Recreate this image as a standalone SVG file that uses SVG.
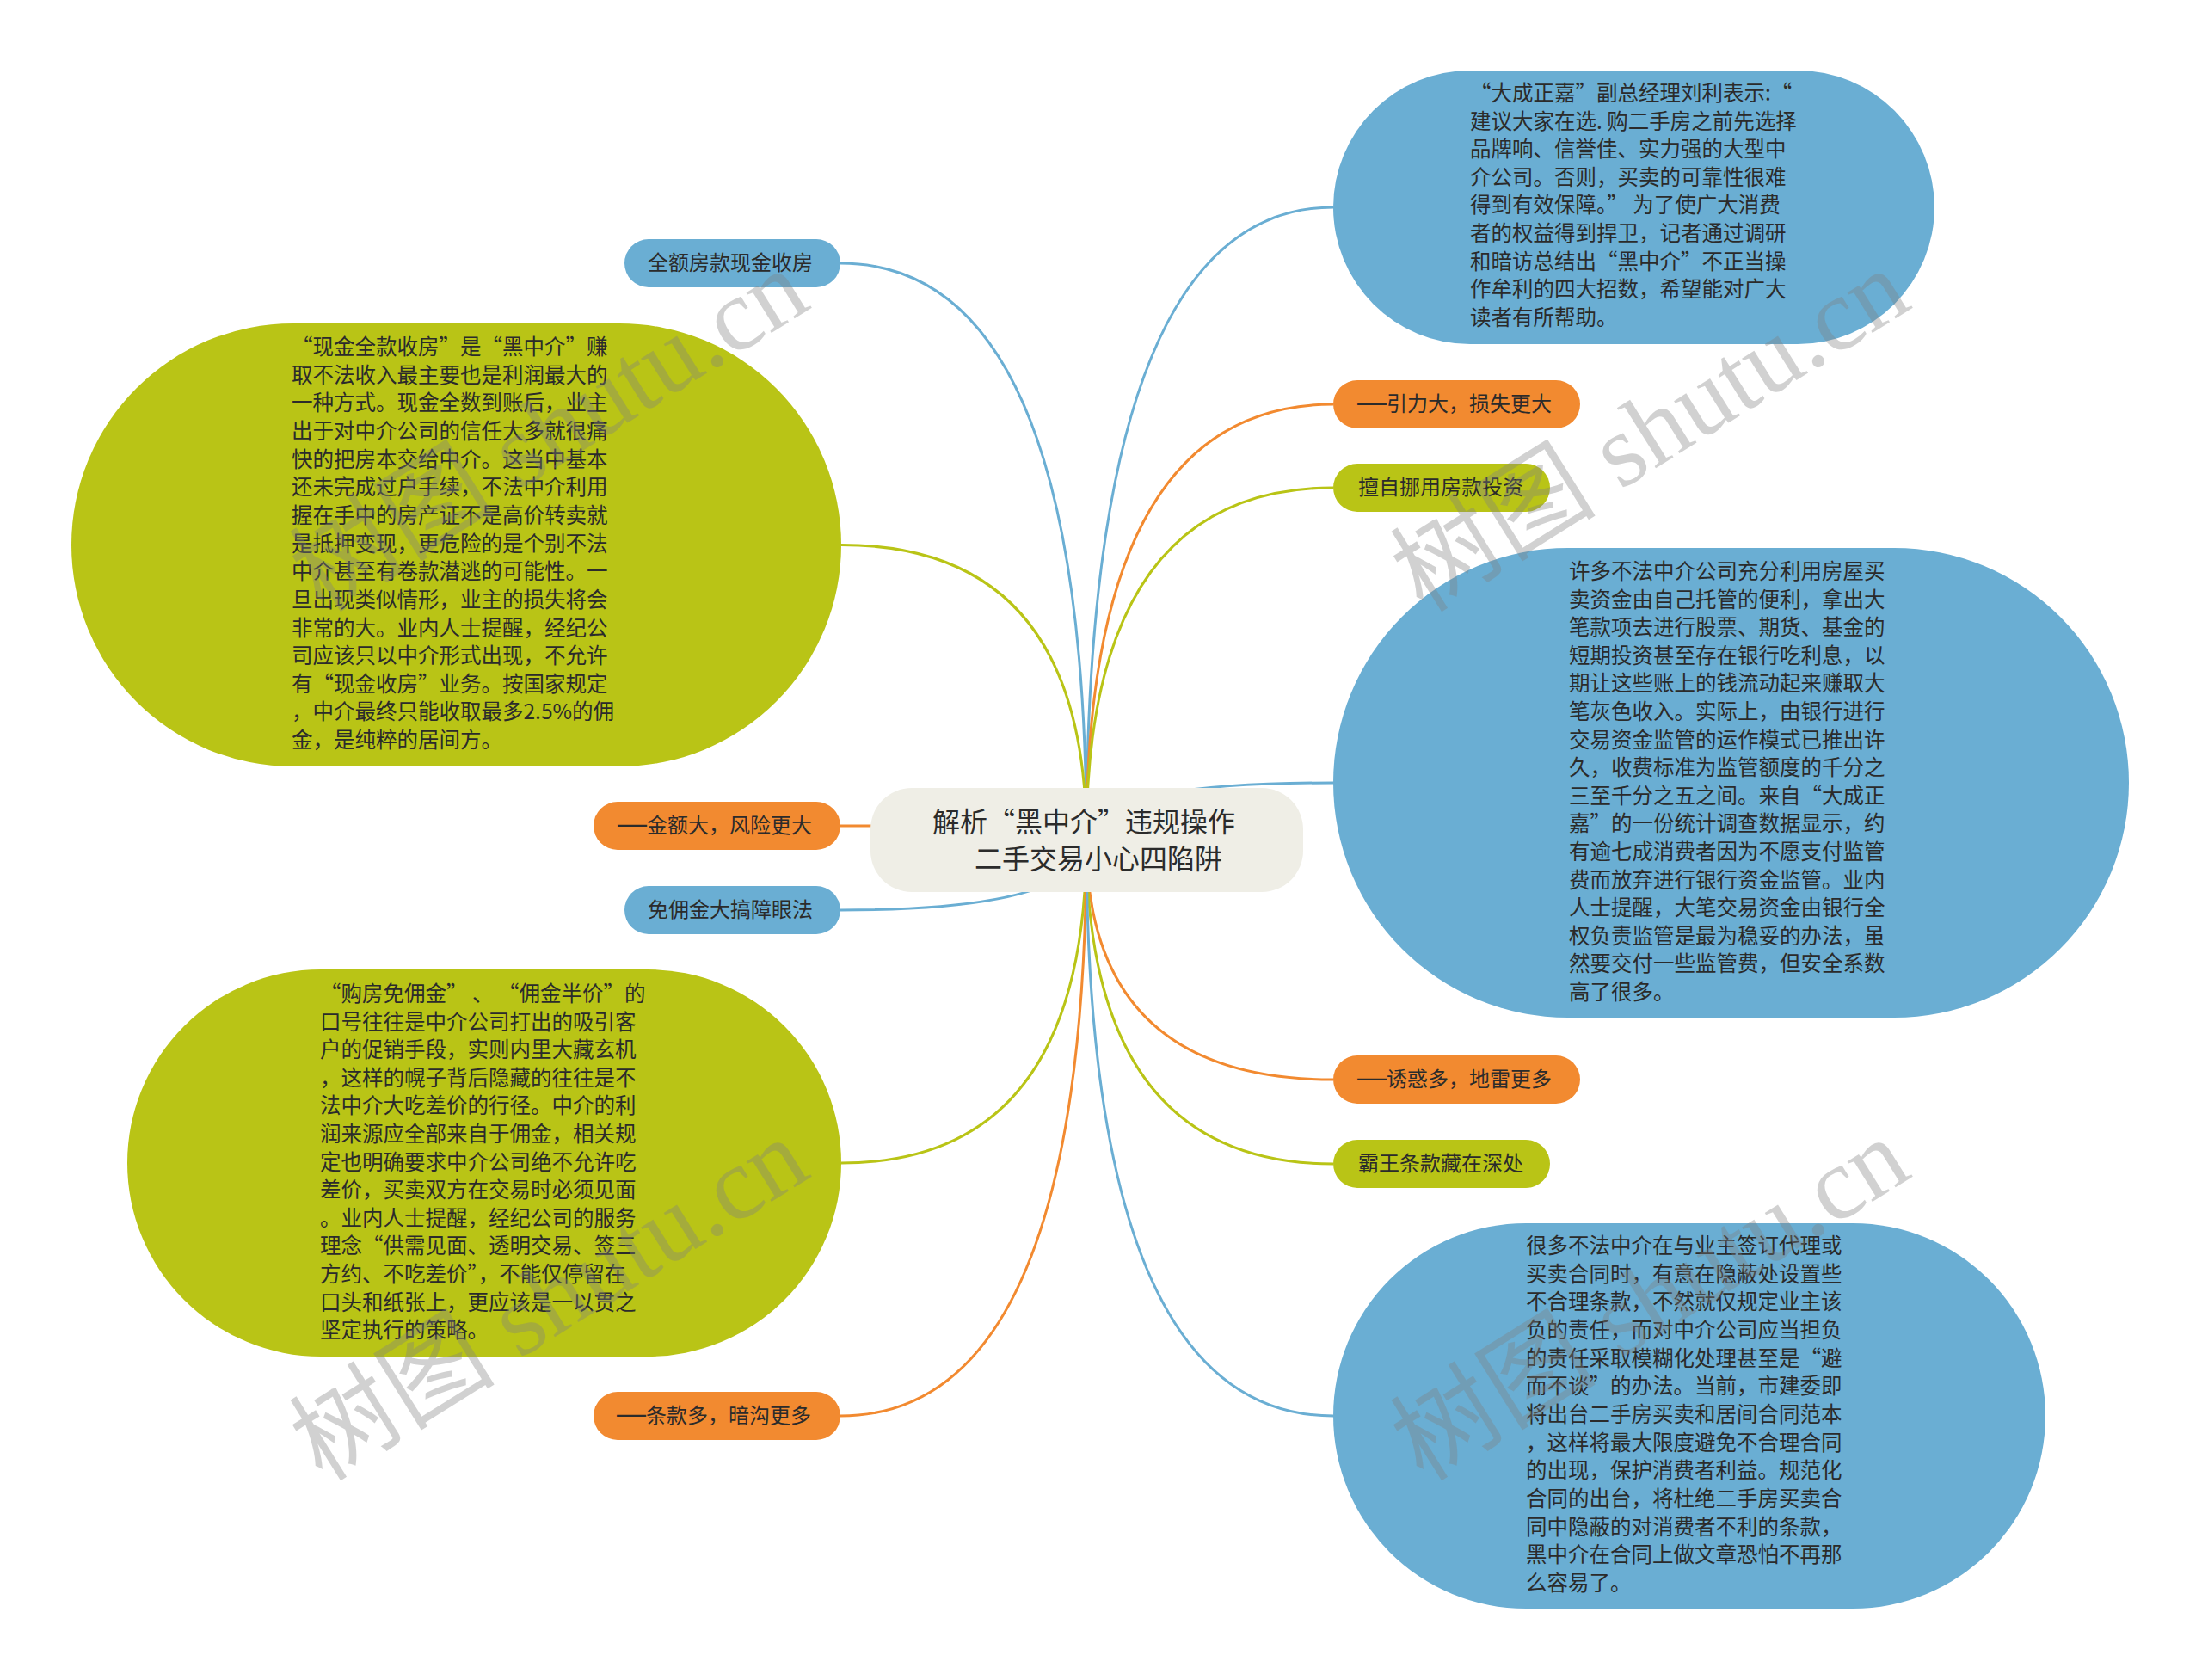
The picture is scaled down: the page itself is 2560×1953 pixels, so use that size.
<svg xmlns="http://www.w3.org/2000/svg" width="2560" height="1953" viewBox="0 0 2560 1953">
<style>
.t{font-family:"Noto Sans CJK SC","Liberation Sans",sans-serif;fill:#2b2b2b}
.body{font-size:24.5px}
.small{font-size:24px}
.title{font-size:32px}
.dash{font-family:"Liberation Sans","Noto Sans CJK SC",sans-serif;font-size:34px}
.blue{fill:#6aaed3}
.green{fill:#b9c416}
.orange{fill:#f28a30}
.center{fill:#efeee6}
.conn{fill:none;stroke-width:3}
.cb{stroke:#6aaed3}
.cg{stroke:#b9c416}
.co{stroke:#f28a30}
.wm{font-family:"Liberation Serif","Noto Sans CJK SC",serif;font-size:120px;fill:#808080;fill-opacity:0.36}
</style>
<rect width="2560" height="1953" fill="#ffffff"/>
<g id="connectors">
<path class="conn cb" d="M1263,976 Q1263,306 977,306"/>
<path class="conn cg" d="M1263,976 Q1263,633.5 978,633.5"/>
<path class="conn co" d="M1263,976 Q1263,960 977,960"/>
<path class="conn cb" d="M1263,976 Q1263,1058 977,1058"/>
<path class="conn cg" d="M1263,976 Q1263,1352 978,1352"/>
<path class="conn co" d="M1263,976 Q1263,1646 977,1646"/>
<path class="conn cb" d="M1263,976 Q1263,241 1550,241"/>
<path class="conn co" d="M1263,976 Q1263,470 1550,470"/>
<path class="conn cg" d="M1263,976 Q1263,567 1550,567"/>
<path class="conn cb" d="M1263,976 Q1263,910 1550,910"/>
<path class="conn co" d="M1263,976 Q1263,1255 1550,1255"/>
<path class="conn cg" d="M1263,976 Q1263,1353 1550,1353"/>
<path class="conn cb" d="M1263,976 Q1263,1646 1550,1646"/>
</g>
<g id="center">
<rect class="center" x="1012" y="916" width="503" height="121" rx="48" ry="48"/>
<text class="t title" x="1084" y="967">解析“黑中介”违规操作</text>
<text class="t title" x="1133" y="1010">二手交易小心四陷阱</text>
</g>
<g id="n1">
<rect class="blue" x="726" y="278" width="251" height="56" rx="28"/>
<text class="t small" x="753" y="314">全额房款现金收房</text>
</g>
<g id="n2">
<rect class="green" x="83" y="376" width="895" height="515" rx="257.5"/>
<text class="t body" x="339" y="412">
<tspan x="339">“现金全款收房”是“黑中介”赚</tspan>
<tspan x="339" dy="32.65">取不法收入最主要也是利润最大的</tspan>
<tspan x="339" dy="32.65">一种方式。现金全数到账后，业主</tspan>
<tspan x="339" dy="32.65">出于对中介公司的信任大多就很痛</tspan>
<tspan x="339" dy="32.65">快的把房本交给中介。这当中基本</tspan>
<tspan x="339" dy="32.65">还未完成过户手续，不法中介利用</tspan>
<tspan x="339" dy="32.65">握在手中的房产证不是高价转卖就</tspan>
<tspan x="339" dy="32.65">是抵押变现，更危险的是个别不法</tspan>
<tspan x="339" dy="32.65">中介甚至有卷款潜逃的可能性。一</tspan>
<tspan x="339" dy="32.65">旦出现类似情形，业主的损失将会</tspan>
<tspan x="339" dy="32.65">非常的大。业内人士提醒，经纪公</tspan>
<tspan x="339" dy="32.65">司应该只以中介形式出现，不允许</tspan>
<tspan x="339" dy="32.65">有“现金收房”业务。按国家规定</tspan>
<tspan x="339" dy="32.65">，中介最终只能收取最多2.5%的佣</tspan>
<tspan x="339" dy="32.65">金，是纯粹的居间方。</tspan>
</text>
</g>
<g id="n3">
<rect class="orange" x="690" y="932" width="287" height="56" rx="28"/>
<text class="t small" x="718" y="968"><tspan class="dash">—</tspan>金额大，风险更大</text>
</g>
<g id="n4">
<rect class="blue" x="726" y="1030" width="251" height="56" rx="28"/>
<text class="t small" x="753" y="1066">免佣金大搞障眼法</text>
</g>
<g id="n5">
<rect class="green" x="148" y="1127" width="830" height="450" rx="225"/>
<text class="t body" x="372" y="1164">
<tspan x="372">“购房免佣金” 、 “佣金半价”的</tspan>
<tspan x="372" dy="32.6">口号往往是中介公司打出的吸引客</tspan>
<tspan x="372" dy="32.6">户的促销手段，实则内里大藏玄机</tspan>
<tspan x="372" dy="32.6">，这样的幌子背后隐藏的往往是不</tspan>
<tspan x="372" dy="32.6">法中介大吃差价的行径。中介的利</tspan>
<tspan x="372" dy="32.6">润来源应全部来自于佣金，相关规</tspan>
<tspan x="372" dy="32.6">定也明确要求中介公司绝不允许吃</tspan>
<tspan x="372" dy="32.6">差价，买卖双方在交易时必须见面</tspan>
<tspan x="372" dy="32.6">。业内人士提醒，经纪公司的服务</tspan>
<tspan x="372" dy="32.6">理念“供需见面、透明交易、签三</tspan>
<tspan x="372" dy="32.6">方约、不吃差价”，不能仅停留在</tspan>
<tspan x="372" dy="32.6">口头和纸张上，更应该是一以贯之</tspan>
<tspan x="372" dy="32.6">坚定执行的策略。</tspan>
</text>
</g>
<g id="n6">
<rect class="orange" x="690" y="1618" width="287" height="56" rx="28"/>
<text class="t small" x="717" y="1654"><tspan class="dash">—</tspan>条款多，暗沟更多</text>
</g>
<g id="n7">
<rect class="blue" x="1550" y="82" width="699" height="318" rx="159"/>
<text class="t body" x="1709" y="117">
<tspan x="1709">“大成正嘉”副总经理刘利表示:“</tspan>
<tspan x="1709" dy="32.6">建议大家在选. 购二手房之前先选择</tspan>
<tspan x="1709" dy="32.6">品牌响、信誉佳、实力强的大型中</tspan>
<tspan x="1709" dy="32.6">介公司。否则，买卖的可靠性很难</tspan>
<tspan x="1709" dy="32.6">得到有效保障。” 为了使广大消费</tspan>
<tspan x="1709" dy="32.6">者的权益得到捍卫，记者通过调研</tspan>
<tspan x="1709" dy="32.6">和暗访总结出“黑中介”不正当操</tspan>
<tspan x="1709" dy="32.6">作牟利的四大招数，希望能对广大</tspan>
<tspan x="1709" dy="32.6">读者有所帮助。</tspan>
</text>
</g>
<g id="n8">
<rect class="orange" x="1550" y="442" width="287" height="56" rx="28"/>
<text class="t small" x="1578" y="478"><tspan class="dash">—</tspan>引力大，损失更大</text>
</g>
<g id="n9">
<rect class="green" x="1550" y="539" width="252" height="56" rx="28"/>
<text class="t small" x="1579" y="575">擅自挪用房款投资</text>
</g>
<g id="n10">
<rect class="blue" x="1550" y="637" width="925" height="546" rx="273"/>
<text class="t body" x="1824" y="673">
<tspan x="1824">许多不法中介公司充分利用房屋买</tspan>
<tspan x="1824" dy="32.6">卖资金由自己托管的便利，拿出大</tspan>
<tspan x="1824" dy="32.6">笔款项去进行股票、期货、基金的</tspan>
<tspan x="1824" dy="32.6">短期投资甚至存在银行吃利息，以</tspan>
<tspan x="1824" dy="32.6">期让这些账上的钱流动起来赚取大</tspan>
<tspan x="1824" dy="32.6">笔灰色收入。实际上，由银行进行</tspan>
<tspan x="1824" dy="32.6">交易资金监管的运作模式已推出许</tspan>
<tspan x="1824" dy="32.6">久，收费标准为监管额度的千分之</tspan>
<tspan x="1824" dy="32.6">三至千分之五之间。来自“大成正</tspan>
<tspan x="1824" dy="32.6">嘉”的一份统计调查数据显示，约</tspan>
<tspan x="1824" dy="32.6">有逾七成消费者因为不愿支付监管</tspan>
<tspan x="1824" dy="32.6">费而放弃进行银行资金监管。业内</tspan>
<tspan x="1824" dy="32.6">人士提醒，大笔交易资金由银行全</tspan>
<tspan x="1824" dy="32.6">权负责监管是最为稳妥的办法，虽</tspan>
<tspan x="1824" dy="32.6">然要交付一些监管费，但安全系数</tspan>
<tspan x="1824" dy="32.6">高了很多。</tspan>
</text>
</g>
<g id="n11">
<rect class="orange" x="1550" y="1227" width="287" height="56" rx="28"/>
<text class="t small" x="1578" y="1263"><tspan class="dash">—</tspan>诱惑多，地雷更多</text>
</g>
<g id="n12">
<rect class="green" x="1550" y="1325" width="252" height="56" rx="28"/>
<text class="t small" x="1579" y="1361">霸王条款藏在深处</text>
</g>
<g id="n13">
<rect class="blue" x="1550" y="1422" width="828" height="448" rx="224"/>
<text class="t body" x="1774" y="1457">
<tspan x="1774">很多不法中介在与业主签订代理或</tspan>
<tspan x="1774" dy="32.65">买卖合同时，有意在隐蔽处设置些</tspan>
<tspan x="1774" dy="32.65">不合理条款，不然就仅规定业主该</tspan>
<tspan x="1774" dy="32.65">负的责任，而对中介公司应当担负</tspan>
<tspan x="1774" dy="32.65">的责任采取模糊化处理甚至是“避</tspan>
<tspan x="1774" dy="32.65">而不谈”的办法。当前，市建委即</tspan>
<tspan x="1774" dy="32.65">将出台二手房买卖和居间合同范本</tspan>
<tspan x="1774" dy="32.65">，这样将最大限度避免不合理合同</tspan>
<tspan x="1774" dy="32.65">的出现，保护消费者利益。规范化</tspan>
<tspan x="1774" dy="32.65">合同的出台，将杜绝二手房买卖合</tspan>
<tspan x="1774" dy="32.65">同中隐蔽的对消费者不利的条款，</tspan>
<tspan x="1774" dy="32.65">黑中介在合同上做文章恐怕不再那</tspan>
<tspan x="1774" dy="32.65">么容易了。</tspan>
</text>
</g>
<g id="watermark">
<text class="wm" text-anchor="middle" transform="translate(660,535) rotate(-32)">树图 shutu.cn</text>
<text class="wm" text-anchor="middle" transform="translate(1940,535) rotate(-32)">树图 shutu.cn</text>
<text class="wm" text-anchor="middle" transform="translate(660,1545) rotate(-32)">树图 shutu.cn</text>
<text class="wm" text-anchor="middle" transform="translate(1940,1545) rotate(-32)">树图 shutu.cn</text>
</g>
</svg>
